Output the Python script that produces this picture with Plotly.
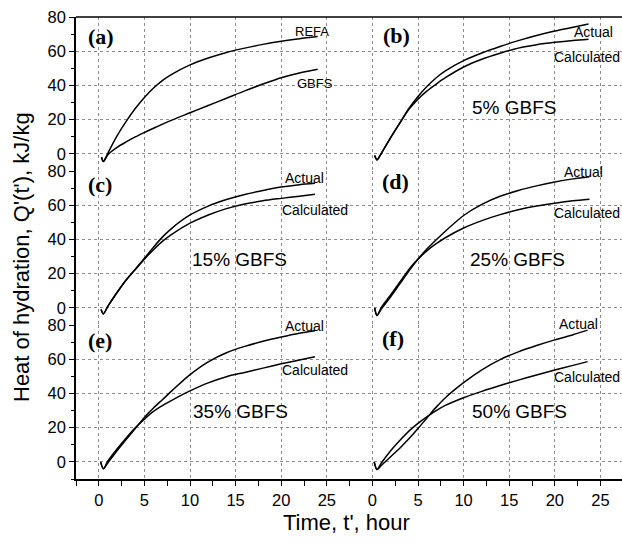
import plotly.graph_objects as go

# ---------------- data ----------------
t_a = [0.3, 0.5, 1, 2, 3, 4, 5, 6, 7, 8, 10, 12, 14, 16, 18, 20, 22, 24]
refa_a = [-2.0, -4.5, 0.5, 10.5, 19.0, 26.5, 33.0, 38.5, 43.0, 46.5, 52.0, 56.0, 59.3, 61.8, 64.0, 65.8, 67.3, 68.6]
t_a2 = [0.3, 0.5, 1, 2, 3, 4, 5, 6, 8, 10, 12, 14, 16, 18, 20, 22, 24]
gbfs_a = [-2.0, -4.5, -0.5, 3.8, 7.0, 9.9, 12.5, 15.0, 19.7, 24.0, 28.3, 32.5, 36.8, 40.8, 44.5, 47.3, 49.5]

t_b = [0.25, 0.5, 1, 2, 3, 4, 5, 6, 7, 8, 10, 12, 14, 16, 18, 20, 22, 23.7]
actual_b = [-1.0, -3.5, 0.5, 9.5, 18.0, 26.5, 33.5, 39.5, 44.5, 48.5, 54.5, 59.0, 62.8, 66.2, 69.2, 71.8, 74.0, 75.9]
calc_b = [-1.0, -3.5, 0.5, 9.5, 18.0, 26.0, 32.0, 36.8, 40.8, 44.5, 50.8, 55.3, 58.8, 61.8, 63.8, 65.2, 66.3, 67.0]

t_c = [0.25, 0.5, 1, 2, 3, 4, 5, 6, 7, 8, 10, 12, 14, 16, 18, 20, 22, 23.7]
actual_c = [-1.0, -3.5, 1.0, 9.0, 16.3, 22.5, 29.0, 35.5, 41.5, 46.5, 54.3, 59.5, 63.3, 66.3, 68.6, 70.6, 72.0, 72.8]
calc_c = [-1.0, -3.5, 1.0, 9.0, 16.3, 22.5, 28.5, 34.0, 39.0, 43.0, 49.5, 54.3, 58.0, 60.7, 62.6, 64.0, 65.3, 66.4]

t_d = [0.25, 0.5, 1, 2, 3, 4, 5, 6, 7, 8, 10, 12, 14, 16, 18, 20, 22, 23.8]
actual_d = [0.0, -4.5, -0.5, 6.5, 14.0, 21.5, 28.5, 34.5, 39.8, 44.8, 54.0, 60.5, 65.2, 68.6, 71.3, 73.6, 75.4, 76.7]
calc_d = [0.0, -4.5, 0.5, 7.5, 15.0, 22.5, 28.5, 33.5, 37.5, 41.0, 46.7, 51.0, 54.5, 57.3, 59.5, 61.2, 62.6, 63.5]

t_e = [0.2, 0.5, 1, 2, 3, 4, 5, 6, 7, 8, 10, 12, 14, 16, 18, 20, 22, 23.7]
actual_e = [0.0, -4.0, -0.5, 6.5, 13.0, 19.5, 26.0, 31.5, 36.5, 41.5, 51.0, 58.5, 63.8, 67.5, 70.5, 73.0, 75.2, 76.7]
calc_e = [0.0, -4.0, 0.5, 7.5, 14.0, 20.0, 25.0, 29.5, 33.0, 36.0, 41.5, 46.2, 49.8, 52.3, 54.8, 57.3, 59.6, 61.5]

t_f = [0.2, 0.5, 1, 2, 3, 4, 5, 6, 7, 8, 10, 12, 14, 16, 18, 20, 22, 23.6]
actual_f = [0.0, -4.5, -2.0, 3.0, 8.0, 13.5, 19.5, 25.8, 32.0, 37.5, 46.3, 53.8, 59.8, 64.3, 68.0, 71.3, 74.3, 77.0]
calc_f = [0.0, -4.5, -0.5, 6.5, 12.5, 18.0, 22.5, 26.5, 30.0, 33.0, 37.5, 41.2, 44.6, 47.8, 50.8, 53.7, 56.4, 58.6]

panel_labels = ["(a)", "(b)", "(c)", "(d)", "(e)", "(f)"]
mix_labels = ["5% GBFS", "15% GBFS", "25% GBFS", "35% GBFS", "50% GBFS"]
x_tick_vals = [0, 5, 10, 15, 20, 25]
y_tick_vals = [0, 20, 40, 60, 80]

# ---------------- figure ----------------
W, H = 622, 545
ML, MR, MT, MB = 76, 0, 17, 66
PW = W - ML - MR
PH = H - MT - MB
pxu = 9.12  # pixels per hour
left_w = 30 * pxu
xsplit = left_w / PW
right_max = -2.5 + (PW - left_w) / pxu

fig = go.Figure()
line = dict(color="black", width=1.5)

def add(x, y, ax):
    s = "" if ax == 1 else str(ax)
    fig.add_trace(go.Scatter(x=x, y=y, mode="lines",
                             line=dict(line, shape="spline", smoothing=0.8),
                             xaxis="x" + s, yaxis="y" + s,
                             showlegend=False, hoverinfo="skip"))

add(t_a, refa_a, 1)
add(t_a2, gbfs_a, 1)
add(t_b, actual_b, 2)
add(t_b, calc_b, 2)
add(t_c, actual_c, 3)
add(t_c, calc_c, 3)
add(t_d, actual_d, 4)
add(t_d, calc_d, 4)
add(t_e, actual_e, 5)
add(t_e, calc_e, 5)
add(t_f, actual_f, 6)
add(t_f, calc_f, 6)

tickfont = dict(family="Liberation Sans, Arial", size=16.5, color="black")
grid = dict(showgrid=True, gridcolor="#8c8c8c", gridwidth=1, griddash="3px,3px",
            zeroline=False, automargin=False)

layout = {}
rows_dom = [[2/3, 1], [1/3, 2/3], [0, 1/3]]
for i in range(6):
    r, c = divmod(i, 2)
    n = i + 1
    s = "" if n == 1 else str(n)
    xa = dict(grid, domain=[0, xsplit] if c == 0 else [xsplit, 1],
              range=[-2.5, 27.5] if c == 0 else [-2.5, right_max],
              tickmode="array", tickvals=x_tick_vals,
              anchor="y" + s, fixedrange=True)
    if r == 2:
        xa.update(showticklabels=True, ticks="outside", ticklen=5, tickwidth=1, tickcolor="black",
                  showline=True, linecolor="black", linewidth=1.5, tickfont=tickfont,
                  minor=dict(ticks="outside", ticklen=5, tickwidth=1, tickcolor="black",
                             tickmode="linear", tick0=0, dtick=2.5, showgrid=False))
    else:
        xa.update(showticklabels=False, ticks="")
    ya = dict(grid, domain=rows_dom[r], range=[-10, 80], tickmode="array", tickvals=y_tick_vals,
              anchor="x" + s, fixedrange=True)
    if c == 0:
        ya.update(showticklabels=True, ticks="outside", ticklen=5, tickwidth=1, tickcolor="black",
                  showline=True, linecolor="black", linewidth=1.5, tickfont=tickfont,
                  minor=dict(ticks="outside", ticklen=3, tickwidth=1, tickcolor="black",
                             tickmode="linear", tick0=0, dtick=10, showgrid=False))
    else:
        ya.update(showticklabels=False, ticks="")
    layout["xaxis" + s] = xa
    layout["yaxis" + s] = ya

fig.update_layout(**layout)

ann = []
def txt(text, x, y, ax, size=14, family="Liberation Sans, Arial", anchor="center", bold=False, yshift=0):
    s = "" if ax == 1 else str(ax)
    ann.append(dict(text=("<b>%s</b>" % text) if bold else text, x=x, y=y, xref="x" + s, yref="y" + s,
                    showarrow=False, xanchor=anchor, yanchor="middle", yshift=yshift,
                    font=dict(family=family, size=size, color="black")))

# panel labels
lab_pos = [(-1.45, 68.5), (0.95, 69.1), (-1.45, 72.4), (0.8, 73.8), (-1.45, 71.2), (0.8, 72.2)]
for i, (lx, ly) in enumerate(lab_pos):
    txt(panel_labels[i], lx, ly, i + 1, size=22, family="Liberation Serif, Times New Roman",
        anchor="left", bold=True)

# series labels
txt("REFA", 23.4, 71.4, 1, size=13)
txt("GBFS", 23.7, 41.3, 1, size=13)
act_pos = [(24.2, 71.4), (22.5, 75.7), (23.1, 79.6), (22.6, 79.4), (22.6, 79.0)]
act_shift = [0, 0, 0, 0, 3]
calc_pos = [(23.5, 56.8), (23.7, 57.2), (23.5, 55.3), (23.7, 53.7), (23.5, 49.4)]
mix_pos = [(15.5, 27.2), (15.4, 28.4), (15.9, 28.0), (15.5, 29.3), (16.1, 29.3)]
for k in range(5):
    ax = k + 2
    txt("Actual", act_pos[k][0], act_pos[k][1], ax, size=14, yshift=act_shift[k])
    txt("Calculated", calc_pos[k][0], calc_pos[k][1], ax, size=14)
    txt(mix_labels[k], mix_pos[k][0], mix_pos[k][1], ax, size=19)

# axis titles
ann.append(dict(text="Heat of hydration, Q'(t'), kJ/kg", x=(21 - ML) / PW, y=(MT + PH - 257) / PH,
                xref="paper", yref="paper", showarrow=False, textangle=-90,
                xanchor="center", yanchor="middle",
                font=dict(family="Liberation Sans, Arial", size=22, color="black")))
ann.append(dict(text="Time, t', hour", x=(346 - ML) / PW, y=(MT + PH - 522) / PH,
                xref="paper", yref="paper", showarrow=False,
                xanchor="center", yanchor="middle",
                font=dict(family="Liberation Sans, Arial", size=22, color="black")))

fig.update_layout(
    width=W, height=H,
    margin=dict(l=ML, r=MR, t=MT, b=MB, autoexpand=False),
    paper_bgcolor="white", plot_bgcolor="white",
    annotations=ann,
    shapes=[dict(type="line", xref="paper", yref="paper", x0=0, x1=1, y0=1, y1=1,
                 line=dict(color="black", width=1.5))],
    showlegend=False,
)

fig.write_html("out.html", config={"displayModeBar": False},
               post_script="document.body.style.margin='0';document.body.style.padding='0';"
                           "document.body.style.overflow='hidden';")
